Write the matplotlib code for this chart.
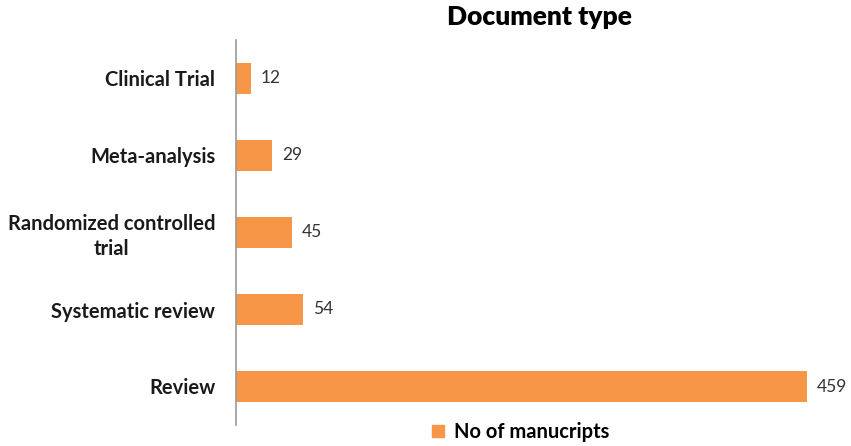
import matplotlib.pyplot as plt
from matplotlib.patches import Patch

# --- DATA ---
categories = ["Review", "Systematic review", "Randomized controlled\ntrial", "Meta-analysis", "Clinical Trial"]
counts = [459, 54, 45, 29, 12]
series_name = "No of manucripts"

BAR_COLOR = "#F79646"
plt.rcParams['font.family'] = ['Lato', 'DejaVu Sans']

fig = plt.figure(figsize=(8.51, 4.46), dpi=100)
ax = fig.add_axes([236 / 851, 21 / 446, 609 / 851, 385 / 446])

bars = ax.barh(range(len(categories)), counts, height=0.4, color=BAR_COLOR)
ax.set_ylim(-0.5, len(categories) - 0.5)
ax.set_xlim(0, 489.6)

ax.set_yticks(range(len(categories)))
ax.set_yticklabels(categories, fontsize=14.5, fontweight='bold', color='#1a1a1a',
                   ha='right', multialignment='center', linespacing=1.3)
ax.tick_params(axis='y', length=0, pad=15)
ax.set_xticks([])

for s in ['top', 'right', 'bottom']:
    ax.spines[s].set_visible(False)
ax.spines['left'].set_color('#999999')
ax.spines['left'].set_linewidth(1.2)

for b, v in zip(bars, counts):
    ax.text(b.get_width() + 8, b.get_y() + b.get_height() / 2, str(v),
            va='center', ha='left', fontsize=12.5, color='#333333')

fig.text(539 / 851, 1 - 17 / 446, "Document type", ha='center', va='center',
         fontsize=19, fontweight='heavy', color='black')

fig.legend(handles=[Patch(color=BAR_COLOR, label=series_name)],
           loc='center', bbox_to_anchor=(521 / 851, 1 - 432 / 446),
           frameon=False, handlelength=0.6, handleheight=0.6, handletextpad=0.5,
           prop={'size': 14.5, 'weight': 'bold'})

fig.savefig("out.png", dpi=100)
